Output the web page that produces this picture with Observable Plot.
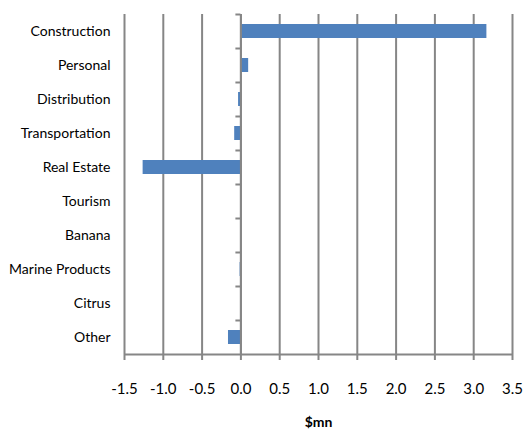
<!DOCTYPE html>
<html>
<head>
<meta charset="utf-8">
<script src="https://cdn.jsdelivr.net/npm/d3@7"></script>
<script src="https://cdn.jsdelivr.net/npm/@observablehq/plot@0.6"></script>
<style>
  html, body { margin: 0; padding: 0; background: #fff; }
  #chart svg { display: block; }
</style>
</head>
<body>
<div id="chart"></div>
<script>
const categories = ["Construction", "Personal", "Distribution", "Transportation", "Real Estate",
  "Tourism", "Banana", "Marine Products", "Citrus", "Other"];
const values = [3.17, 0.10, -0.03, -0.08, -1.26, 0, 0, -0.01, 0, -0.16];
const xTicks = [-1.5, -1.0, -0.5, 0, 0.5, 1.0, 1.5, 2.0, 2.5, 3.0, 3.5];
const xLabel = "$mn";

const data = categories.map((c, i) => ({category: c, value: values[i]}));
const gray = "#868686";
const font = "Lato, sans-serif";

const chart = Plot.plot({
  width: 529,
  height: 432,
  marginTop: 14,
  marginBottom: 78,
  marginLeft: 124,
  marginRight: 17,
  style: {fontFamily: font, fontSize: "15px", color: "#000", background: "#fff"},
  x: {domain: [-1.5, 3.5], ticks: xTicks},
  y: {domain: categories, paddingInner: 0.6, paddingOuter: 0.3},
  marks: [
    Plot.gridX(xTicks, {stroke: gray, strokeWidth: 2, strokeOpacity: 1}),
    Plot.barX(data, {x: "value", y: "category", fill: "#4F81BD"}),
    Plot.ruleX([0], {stroke: gray, strokeWidth: 2}),
    Plot.ruleY(categories, {y: d => d, x1: 0, x2: 0, insetLeft: -5, dy: -17, stroke: gray, strokeWidth: 2}),
    Plot.ruleY(categories.slice(-1), {y: d => d, dy: 17, stroke: gray, strokeWidth: 2}),
    Plot.axisX({ticks: xTicks, tickFormat: d => d.toFixed(1), tickSize: 6, tickPadding: 23,
      stroke: gray, strokeWidth: 2, label: null, fontSize: 15}),
    Plot.axisY({anchor: "left", tickSize: 0, tickPadding: 14, label: null, fontSize: 14}),
    Plot.text([xLabel], {frameAnchor: "bottom", dy: 68, lineAnchor: "middle", fontWeight: "bold", fontSize: 14})
  ]
});
document.getElementById("chart").appendChild(chart);
</script>
</body>
</html>
